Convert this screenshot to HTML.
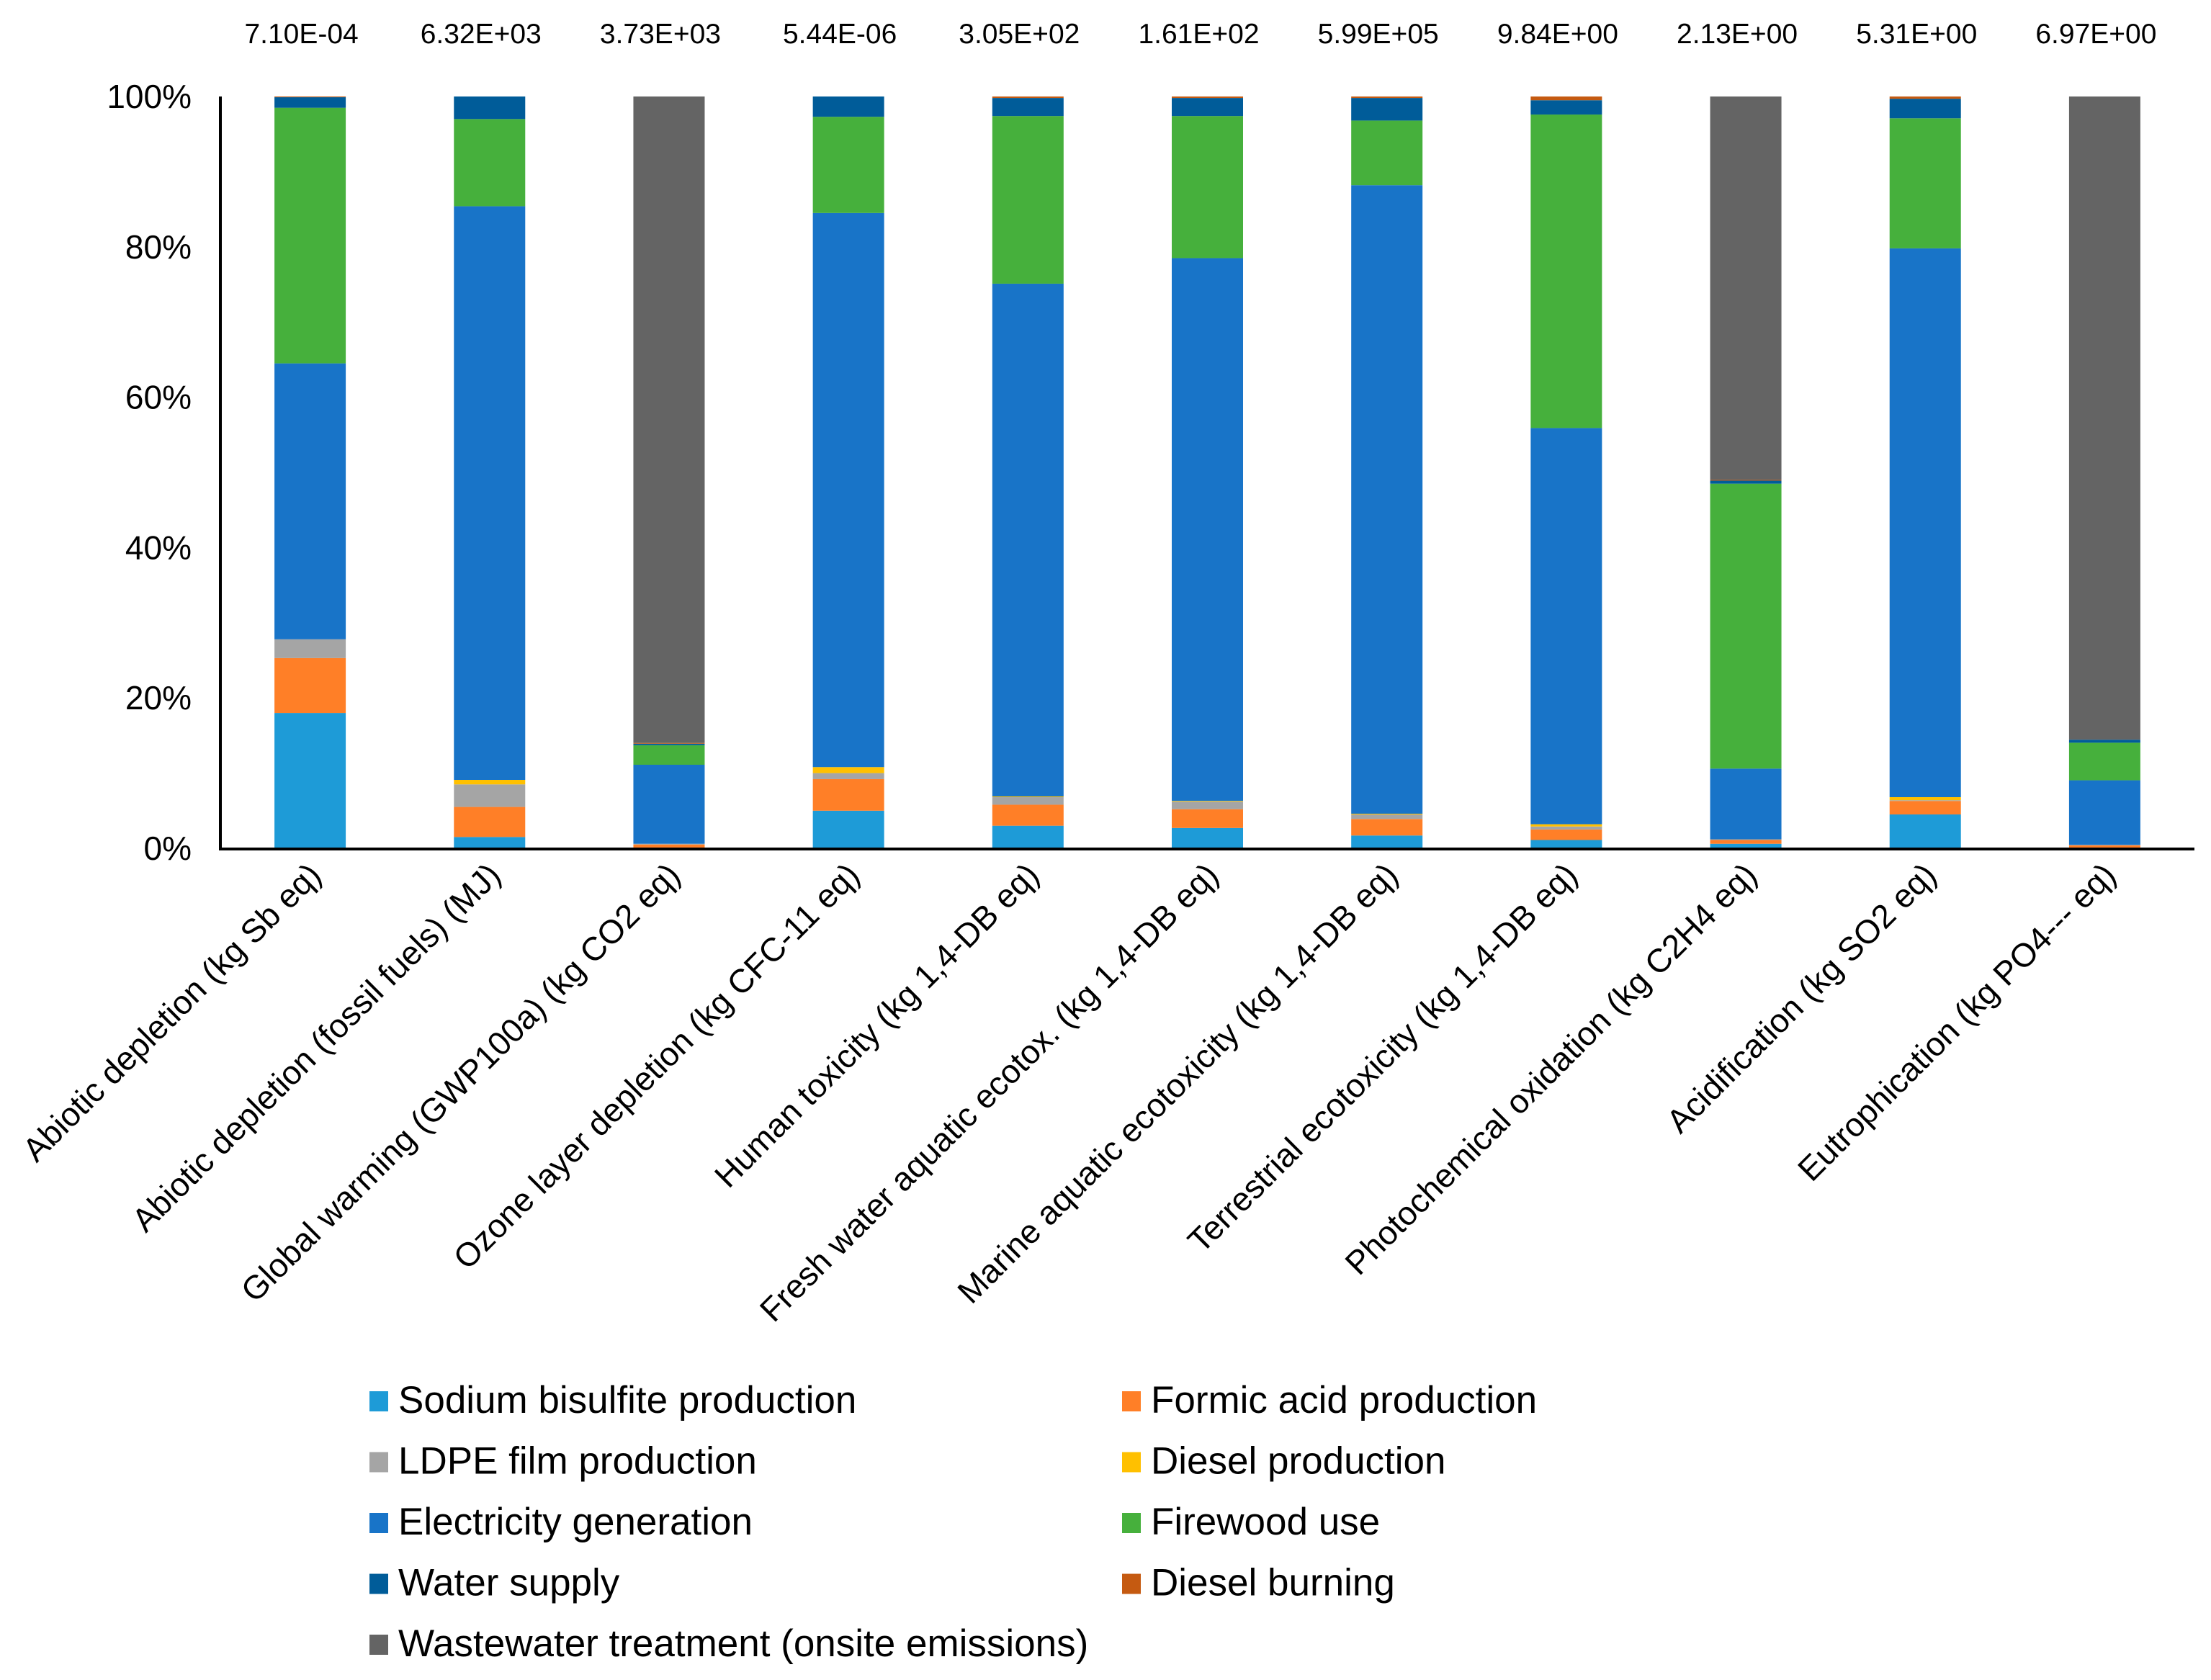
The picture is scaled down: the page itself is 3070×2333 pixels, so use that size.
<!DOCTYPE html>
<html><head><meta charset="utf-8"><style>
html,body{margin:0;padding:0;background:#fff;}
svg{display:block;font-family:"Liberation Sans",Arial,sans-serif;}
</style></head><body>
<svg id="chart" width="3070" height="2333" viewBox="0 0 3070 2333" xmlns="http://www.w3.org/2000/svg">
<g id="bars"></g>
<g id="axes"></g>
<g id="legend"></g>
</svg>
<script>
const categories = ["Abiotic depletion (kg Sb eq)","Abiotic depletion (fossil fuels) (MJ)","Global warming (GWP100a) (kg CO2 eq)","Ozone layer depletion (kg CFC-11 eq)","Human toxicity (kg 1,4-DB eq)","Fresh water aquatic ecotox. (kg 1,4-DB eq)","Marine aquatic ecotoxicity (kg 1,4-DB eq)","Terrestrial ecotoxicity (kg 1,4-DB eq)","Photochemical oxidation (kg C2H4 eq)","Acidification (kg SO2 eq)","Eutrophication (kg PO4--- eq)"];
const totals = ["7.10E-04","6.32E+03","3.73E+03","5.44E-06","3.05E+02","1.61E+02","5.99E+05","9.84E+00","2.13E+00","5.31E+00","6.97E+00"];
const seriesNames = ["Sodium bisulfite production","Formic acid production","LDPE film production","Diesel production","Electricity generation","Firewood use","Water supply","Diesel burning","Wastewater treatment (onsite emissions)"];
const sodium   = [18.0,1.5,0.1,5.0,3.0,2.7,1.7,1.1,0.6,4.5,0.1];
const formic   = [7.3,4.0,0.4,4.2,2.8,2.5,2.2,1.4,0.5,1.8,0.3];
const ldpe     = [2.5,3.0,0.1,0.8,1.0,1.0,0.6,0.4,0.1,0.1,0.05];
const dieselP  = [0.0,0.6,0.0,0.8,0.1,0.1,0.1,0.3,0.0,0.4,0.0];
const elec     = [36.7,76.3,10.5,73.7,68.2,72.2,83.6,52.7,9.4,73.0,8.6];
const firewood = [34.0,11.6,2.6,12.8,22.3,18.9,8.6,41.7,37.9,17.3,5.0];
const water    = [1.4,3.0,0.2,2.7,2.4,2.4,3.0,1.9,0.4,2.6,0.4];
const burning  = [0.1,0.0,0.1,0.0,0.2,0.2,0.2,0.5,0.1,0.3,0.0];
const wastewater = [0.0,0.0,85.9,0.0,0.0,0.0,0.0,0.0,51.0,0.0,85.6];
const yTicks = [0,20,40,60,80,100];

const series = [sodium,formic,ldpe,dieselP,elec,firewood,water,burning,wastewater];
const colors = ["#1E9BD7","#FF7F27","#A5A5A5","#FFC000","#1874C8","#46B03C","#005C99","#C55A11","#646464"];
const NS="http://www.w3.org/2000/svg";
const X0=306, X1=3047, Y0=1178, Y1=134;
const band=(X1-X0)/categories.length, barW=99;
const xC=i=>X0+band*(i+0.5);
const y=v=>Y0-(v/100)*(Y0-Y1);
function mk(tag,attrs,parent){const e=document.createElementNS(NS,tag);for(const k in attrs)e.setAttribute(k,attrs[k]);parent.appendChild(e);return e;}
const gB=document.getElementById('bars'), gA=document.getElementById('axes'), gL=document.getElementById('legend');
const slug=s=>s.toLowerCase().replace(/[^a-z0-9]+/g,'-').replace(/^-|-$/g,'');

categories.forEach((c,i)=>{
  let cum=0;
  const tot=series.reduce((a,s)=>a+s[i],0);
  series.forEach((s,k)=>{
    const v=s[i]/tot*100;
    if(v<=0){return;}
    const r=mk('rect',{x:xC(i)-barW/2,y:y(cum+v),width:barW,height:y(cum)-y(cum+v),fill:colors[k]},gB);
    
    
    cum+=v;
  });
  const t=mk('text',{x:xC(i)-12,y:60,'text-anchor':'middle','font-size':39,fill:'#000'},gA);
  t.textContent=totals[i];
  
  
  const cx=xC(i)+18, cy=1218;
  const l=mk('text',{x:cx,y:cy,'text-anchor':'end','font-size':46,fill:'#000',transform:`rotate(-45 ${cx} ${cy})`},gA);
  l.textContent=c;
  
  
});

yTicks.forEach(v=>{
  const t=mk('text',{x:266,y:y(v)+16,'text-anchor':'end','font-size':46,fill:'#000'},gA);
  t.textContent=v+'%';
  
  
});
const ya=mk('line',{x1:X0,y1:Y1,x2:X0,y2:Y0+2,stroke:'#000','stroke-width':4},gA);


const xa=mk('line',{x1:X0-2,y1:Y0+1,x2:X1,y2:Y0+1,stroke:'#000','stroke-width':4},gA);



const legPos=[[0,0],[1,0],[0,1],[1,1],[0,2],[1,2],[0,3],[1,3],[0,4]];
const legSeriesOrder=[0,1,2,3,4,5,6,7,8];
legSeriesOrder.forEach((k,j)=>{
  const [col,row]=legPos[j];
  const lx=col?1558:513, ly=1944+row*84.5;
  const g=mk('g',{},gL);
  
  
  mk('rect',{x:lx,y:ly-12,width:26,height:28,fill:colors[k]},g);
  const t=mk('text',{x:lx+40,y:ly+18,'font-size':53,fill:'#000'},g);
  t.textContent=seriesNames[k];
});
</script>
</body></html>
